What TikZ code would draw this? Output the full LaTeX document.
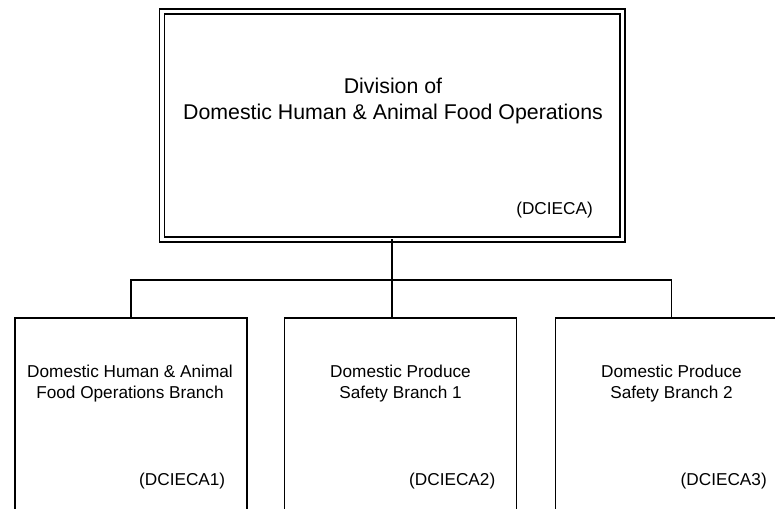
\documentclass[tikz,border=0pt]{standalone}
\usepackage{fontspec}
\setmainfont{Liberation Sans}
\usepackage{tikz}
\usetikzlibrary{positioning}
\tikzset{
  divbox/.style={draw, double, line width=1.2pt, double distance=2.5pt,
                 inner sep=0pt, outer sep=0pt,
                 minimum width=345.4pt, minimum height=171pt},
  branchbox/.style={draw, line width=1.4pt, inner sep=0pt, outer sep=0pt,
                    minimum width=174pt, minimum height=187.5pt},
  bigtext/.style={align=center, font=\fontsize{16}{19.5}\selectfont},
  smalltext/.style={align=center, font=\fontsize{12.9}{15.75}\selectfont},
  idtext/.style={anchor=east, inner sep=0pt, font=\fontsize{12.9}{15.75}\selectfont},
  link/.style={line width=1.4pt}
}

\begin{document}
\begin{tikzpicture}[x=0.75pt, y=-0.75pt]
    \useasboundingbox (0,0) rectangle (775,509);
    \clip (0,0) rectangle (775,509);
    % division
    \node[divbox] (div) at (392.25,125.5) {};
    \node[bigtext] (divname) at (393,100.5) {Division of\\Domestic Human \& Animal Food Operations};
    \node[idtext] (divid) at (593,210) {(DCIECA)};
    % branches
    \node[branchbox] (b1) at (131,443) {};
    \node[branchbox] (b2) at (400.5,443) {};
    \node[branchbox] (b3) at (671.5,443) {};
    \node[smalltext] (b1name) at (130,384) {Domestic Human \& Animal\\Food Operations Branch};
    \node[smalltext] (b2name) at (400.5,384) {Domestic Produce\\Safety Branch 1};
    \node[smalltext] (b3name) at (671.5,384) {Domestic Produce\\Safety Branch 2};
    \node[idtext] (b1id) at (225.5,481.5) {(DCIECA1)};
    \node[idtext] (b2id) at (495.5,481.5) {(DCIECA2)};
    \node[idtext] (b3id) at (767,481.5) {(DCIECA3)};
    % connectors
    \coordinate (bus) at (392.25,280);
    \draw[link] (div.south) -- (div.south |- b2.north);
    \draw[link] (b1.north) |- (bus) -| (b3.north);
\end{tikzpicture}
\end{document}
